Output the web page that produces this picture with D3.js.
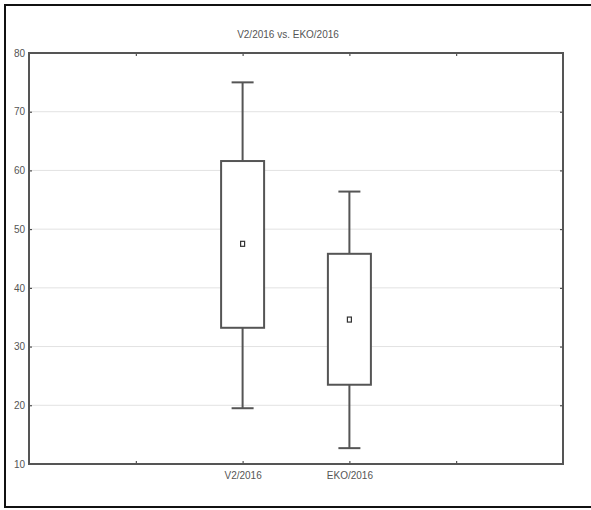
<!DOCTYPE html>
<html>
<head>
<meta charset="utf-8">
<script src="https://cdn.jsdelivr.net/npm/d3@7"></script>
<style>
  body { margin: 0; background: #fff; }
  svg text { font-family: "Liberation Sans", Arial, sans-serif; fill: #555; }
</style>
</head>
<body>
<div id="chart"></div>
<script>
var chartTitle = "V2/2016 vs. EKO/2016";
var categories = ["V2/2016", "EKO/2016"];
var slots = [1, 2, 3, 4];          // x tick positions, categories sit on 2 and 3
var medians = [47.5, 34.6];
var q1 = [33.2, 23.5];
var q3 = [61.6, 45.8];
var whiskerLow = [19.5, 12.7];
var whiskerHigh = [75, 56.4];
var yTicks = [10, 20, 30, 40, 50, 60, 70, 80];

var width = 591, height = 510;
var margin = { top: 53, right: 28, bottom: 46, left: 29 };

var svg = d3.select("#chart").append("svg")
    .attr("width", width)
    .attr("height", height);

// outer frame (open on the right, like the cropped original)
svg.append("path")
    .attr("d", "M591,5 H5 V507 H591")
    .attr("fill", "none")
    .attr("stroke", "#111")
    .attr("stroke-width", 2);

var x = d3.scaleLinear()
    .domain([0, 5])
    .range([margin.left, width - margin.right]);
var y = d3.scaleLinear()
    .domain([10, 80])
    .range([height - margin.bottom, margin.top]);

var pos = function(i) { return x(i + 2); };

// grid
svg.append("g").selectAll("line")
    .data(yTicks.slice(1, -1))
    .enter().append("line")
    .attr("x1", x(0)).attr("x2", x(5))
    .attr("y1", d => y(d)).attr("y2", d => y(d))
    .attr("stroke", "#e2e2e2")
    .attr("stroke-width", 1);

// axes
var yAxis = d3.axisLeft(y).tickValues(yTicks).tickSize(3).tickPadding(3);
var gy = svg.append("g").attr("transform", `translate(${x(0)},0)`).call(yAxis);
gy.select(".domain").remove();
gy.selectAll("line").attr("stroke", "#333").attr("x2", 3);
gy.selectAll("text").style("font-size", "10px").attr("dx", "2");

var gy2 = svg.append("g").attr("transform", `translate(${x(5)},0)`)
    .call(d3.axisLeft(y).tickValues(yTicks).tickSize(3).tickFormat(""));
gy2.select(".domain").remove();
gy2.selectAll("line").attr("stroke", "#333");

var gx = svg.append("g").attr("transform", `translate(0,${y(10)})`)
    .call(d3.axisTop(x).tickValues(slots).tickSize(3)
        .tickFormat(d => d === 2 ? categories[0] : d === 3 ? categories[1] : ""));
gx.select(".domain").remove();
gx.selectAll("line").attr("stroke", "#333");
gx.selectAll("text").attr("y", 15).style("font-size", "10px");

var gx2 = svg.append("g").attr("transform", `translate(0,${y(80)})`)
    .call(d3.axisBottom(x).tickValues(slots).tickSize(3).tickFormat(""));
gx2.select(".domain").remove();
gx2.selectAll("line").attr("stroke", "#333");

// plot frame
svg.append("rect")
    .attr("x", x(0)).attr("y", y(80))
    .attr("width", x(5) - x(0)).attr("height", y(10) - y(80))
    .attr("fill", "none")
    .attr("stroke", "#555")
    .attr("stroke-width", 2);

// title
svg.append("text")
    .attr("x", 288).attr("y", 38)
    .attr("text-anchor", "middle")
    .style("font-size", "10px")
    .text(chartTitle);

// boxes
var boxW = 43, capW = 22;
var g = svg.append("g").selectAll("g")
    .data(categories)
    .enter().append("g");

g.append("line")
    .attr("x1", (d, i) => pos(i)).attr("x2", (d, i) => pos(i))
    .attr("y1", (d, i) => y(whiskerHigh[i])).attr("y2", (d, i) => y(whiskerLow[i]))
    .attr("stroke", "#555").attr("stroke-width", 2);

g.append("line")
    .attr("x1", (d, i) => pos(i) - capW / 2).attr("x2", (d, i) => pos(i) + capW / 2)
    .attr("y1", (d, i) => y(whiskerHigh[i])).attr("y2", (d, i) => y(whiskerHigh[i]))
    .attr("stroke", "#555").attr("stroke-width", 2);

g.append("line")
    .attr("x1", (d, i) => pos(i) - capW / 2).attr("x2", (d, i) => pos(i) + capW / 2)
    .attr("y1", (d, i) => y(whiskerLow[i])).attr("y2", (d, i) => y(whiskerLow[i]))
    .attr("stroke", "#555").attr("stroke-width", 2);

g.append("rect")
    .attr("x", (d, i) => pos(i) - boxW / 2)
    .attr("y", (d, i) => y(q3[i]))
    .attr("width", boxW)
    .attr("height", (d, i) => y(q1[i]) - y(q3[i]))
    .attr("fill", "#fff")
    .attr("stroke", "#555").attr("stroke-width", 2);

g.append("rect")
    .attr("x", (d, i) => pos(i) - 2)
    .attr("y", (d, i) => y(medians[i]) - 2.5)
    .attr("width", 4).attr("height", 5)
    .attr("fill", "#fff")
    .attr("stroke", "#333").attr("stroke-width", 1.2);
</script>
</body>
</html>
